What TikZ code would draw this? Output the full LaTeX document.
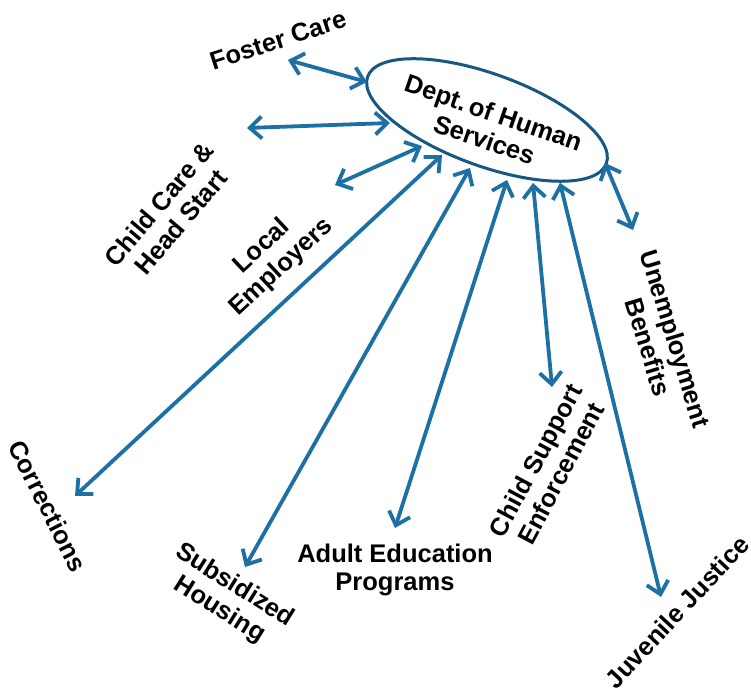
\documentclass[tikz,border=0pt]{standalone}
\usepackage{fontspec}
\setmainfont{Liberation Sans}
\usetikzlibrary{arrows.meta,shapes.geometric}
\frenchspacing
\definecolor{arrblue}{RGB}{28,112,163}
\definecolor{ellblue}{RGB}{22,88,130}
\tikzset{
  x=1pt,y=1pt,
  link/.style={draw=arrblue,line width=3.8pt,
    {Straight Barb[length=12pt,width=22pt,line width=3.8pt]}-{Straight Barb[length=12pt,width=22pt,line width=3.8pt]}},
  lbl/.style={font=\bfseries\fontsize{25.5}{28.5}\selectfont,align=center,inner sep=0pt},
  hub/.style={draw=ellblue,line width=3pt,ellipse,minimum width=254pt,minimum height=92pt,inner sep=0pt,fill=white}
}
\begin{document}
\begin{tikzpicture}
\useasboundingbox[fill=white] (0,0) rectangle (751,693);
% hub
\node[hub,rotate=-20] (dhs) at (487,573) {};
\node[lbl,rotate=-19] (dhst) at (489,567) {Dept.\,of Human\\Services};
% labels
\node[lbl,rotate=18] (fc) at (278,653) {Foster Care};
\node[lbl,rotate=50] (cc) at (170,480) {Child Care \&\\Head Start};
\node[lbl,rotate=43] (le) at (272,436) {Local\\Employers};
\node[lbl,rotate=-63] (co) at (48,187) {Corrections};
\node[lbl,rotate=-32] (sh) at (227,95) {Subsidized\\Housing};
\node[lbl] (ae) at (395,123) {Adult Education\\Programs};
\node[lbl,rotate=62] (cs) at (548,226) {Child Support\\Enforcement};
\node[lbl,rotate=-73] (ub) at (662,350) {Unemployment\\Benefits};
\node[lbl,rotate=47] (jj) at (677,81) {Juvenile Justice};
% connector ends
\coordinate (fc-o) at (288,633); \coordinate (fc-i) at (367,611);
\coordinate (cc-o) at (247,565); \coordinate (cc-i) at (390,570);
\coordinate (le-o) at (335,508); \coordinate (le-i) at (422,547);
\coordinate (co-o) at (75,197);  \coordinate (co-i) at (442,538);
\coordinate (sh-o) at (245,126); \coordinate (sh-i) at (470,525);
\coordinate (ae-o) at (395,165); \coordinate (ae-i) at (507,513);
\coordinate (cs-o) at (552,306); \coordinate (cs-i) at (533,510);
\coordinate (jj-o) at (661,96);  \coordinate (jj-i) at (560,510);
\coordinate (ub-o) at (633,463); \coordinate (ub-i) at (605,530);
% connectors
\draw[link] (fc-o) -- (fc-i);
\draw[link] (cc-o) -- (cc-i);
\draw[link] (le-o) -- (le-i);
\draw[link] (co-o) -- (co-i);
\draw[link] (sh-o) -- (sh-i);
\draw[link] (ae-o) -- (ae-i);
\draw[link] (cs-o) -- (cs-i);
\draw[link] (jj-o) -- (jj-i);
\draw[link] (ub-o) -- (ub-i);
\end{tikzpicture}
\end{document}
